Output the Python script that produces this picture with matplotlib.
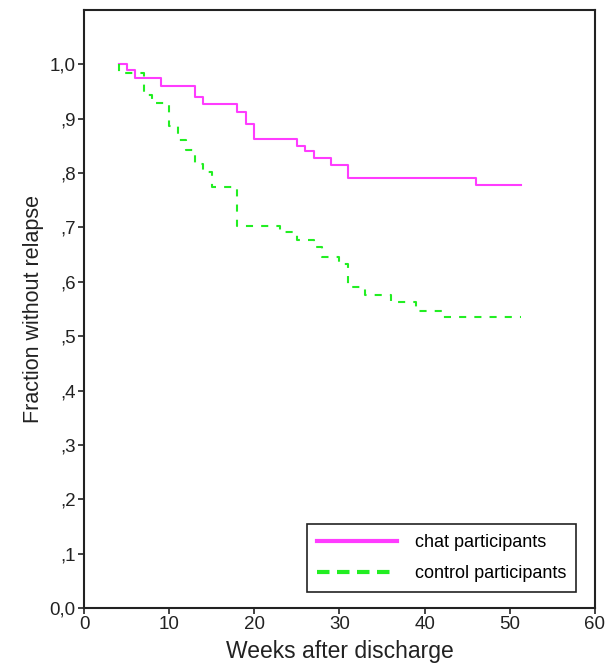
import matplotlib
matplotlib.use("Agg")
import matplotlib.pyplot as plt
from matplotlib.lines import Line2D
import numpy as np

# Kaplan-Meier style step data (weeks, fraction without relapse)
chat_weeks = [4.1, 5, 6, 9, 13, 14, 18, 19, 20, 25, 26, 27, 29, 31, 46, 51.3]
chat_frac = [1.0, 0.989, 0.975, 0.961, 0.940, 0.927, 0.912, 0.891, 0.862,
             0.850, 0.840, 0.828, 0.815, 0.791, 0.778, 0.778]

control_weeks = [4.1, 4.1, 7, 8, 10, 11, 12, 13, 14, 15, 18, 23, 25, 27, 28,
                 30, 31, 33, 36, 39, 42, 51.3]
control_frac = [1.0, 0.985, 0.943, 0.929, 0.886, 0.860, 0.843, 0.817, 0.802,
                0.774, 0.703, 0.691, 0.677, 0.664, 0.646, 0.633, 0.590, 0.576,
                0.562, 0.547, 0.535, 0.535]

y_ticks = [0.0, 0.1, 0.2, 0.3, 0.4, 0.5, 0.6, 0.7, 0.8, 0.9, 1.0]
y_labels = ["0,0", ",1", ",2", ",3", ",4", ",5", ",6", ",7", ",8", ",9", "1,0"]
x_ticks = [0, 10, 20, 30, 40, 50, 60]

CHAT_COL = "#ff3cff"
CTRL_COL = "#22ee22"

plt.rcParams.update({
    "font.family": ["Liberation Sans", "DejaVu Sans"],
})

fig = plt.figure(figsize=(6.07, 6.67), dpi=100)
ax = fig.add_axes([0.1384, 0.0885, 0.8418, 0.8965])

ax.step(chat_weeks, chat_frac, where="post", color=CHAT_COL, lw=1.5)
ax.step(control_weeks, control_frac, where="post", color=CTRL_COL, lw=1.5,
        linestyle=(0, (3.4, 3.9)))

ax.set_xlim(0, 60)
ax.set_ylim(0, 1.1)
ax.set_xticks(x_ticks)
ax.set_yticks(y_ticks)
ax.set_yticklabels(y_labels)
ax.tick_params(axis="both", direction="out", length=4, width=1.2,
               labelsize=13.5, colors="#222222")
ax.tick_params(axis="y", pad=2)
ax.tick_params(axis="x", pad=2)
for s in ax.spines.values():
    s.set_linewidth(1.5)
    s.set_color("#222222")

ax.set_xlabel("Weeks after discharge", fontsize=16.5, color="#222222", labelpad=5)
ax.set_ylabel("Fraction without relapse", fontsize=15.5, color="#222222", labelpad=4)

handles = [
    Line2D([], [], color=CHAT_COL, lw=3),
    Line2D([], [], color=CTRL_COL, lw=3, linestyle=(0, (3.0, 1.8))),
]
leg = ax.legend(handles, ["chat participants", "control participants"],
                loc="lower right", bbox_to_anchor=(0.963, 0.027),
                borderaxespad=0, fontsize=13, handlelength=4.4,
                handletextpad=1.0, borderpad=0.55, labelspacing=0.75,
                fancybox=False, framealpha=1, edgecolor="#222222")
leg.get_frame().set_linewidth(1.2)

plt.savefig("out.png", dpi=100)
